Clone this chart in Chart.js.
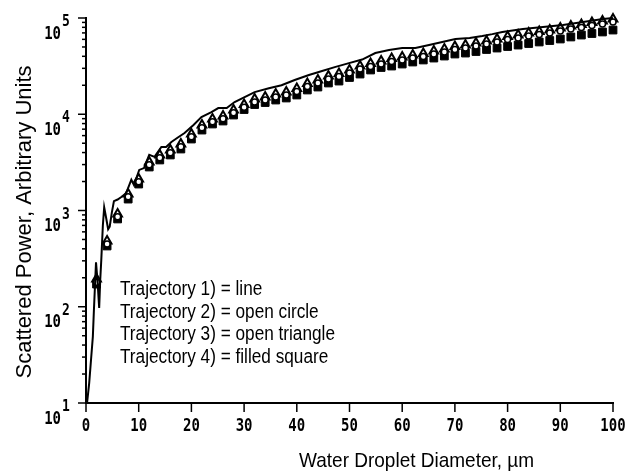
<!DOCTYPE html>
<html>
<head>
<meta charset="utf-8">
<script src="https://cdn.jsdelivr.net/npm/chart.js@4.4.1/dist/chart.umd.min.js"></script>
<style>
    html, body { margin: 0; background: #fff; }
</style>
</head>
<body>
<canvas id="scatterChart" width="626" height="475"></canvas>
<script>
// ─── Data ───────────────────────────────────────────────────────────────────
const lineX = [0.2, 0.6, 0.95, 1.3, 1.5, 1.9, 2.2, 2.5, 2.7, 2.9, 3.2, 3.45, 3.8, 4.2, 4.5,
    4.9, 5.3, 6.0, 6.7, 7.6, 8.6, 9.1, 10.1, 11.0, 12.0, 13.0, 14.3, 15.2, 16.2, 17.5,
    18.7, 20.4, 21.9, 23.8, 25.1, 26.7, 28.2, 30.1, 32.0, 34.7, 37.1, 39.6, 42.3, 44.8, 47.2,
    49.9, 52.4, 54.9, 57.5, 60, 62.5, 65.1, 67.6, 70.1, 72.8, 75.2, 77.1, 79, 82.9, 86.7,
    90.5, 94.3, 98.1, 100];
const lineY = [10, 16, 28, 49, 92, 290, 180, 97, 190, 306, 700, 1080, 850, 640, 680,
    950, 1250, 1300, 1380, 1510, 2090, 1840, 2640, 2760, 3790, 3610, 4580, 4580, 5150, 5770,
    6380, 7750, 9340, 10500, 11600, 11600, 13400, 15100, 17000, 18600, 20000, 22700, 25600, 28100, 30900,
    34000, 37000, 43300, 46500, 48700, 48700, 52500, 56400, 60500, 62000, 65000, 68000, 71600, 77000, 80500,
    84500, 90800, 97700, 100000];

const markerX = [2, 4, 6, 8, 10, 12, 14, 16, 18, 20, 22, 24, 26, 28, 30, 32, 34, 36, 38, 40,
    42, 44, 46, 48, 50, 52, 54, 56, 58, 60, 62, 64, 66, 68, 70, 72, 74, 76, 78, 80,
    82, 84, 86, 88, 90, 92, 94, 96, 98, 100];
const traj2 = [180, 450, 860, 1390, 1990, 2990, 3530, 3980, 4590, 5830,
    7220, 8350, 8970, 10350, 11800, 13400, 14100, 15100, 15850, 17250,
    19400, 21100, 23200, 24600, 26800, 29500, 31300, 33200, 35300, 36600,
    38400, 39800, 42200, 44300, 47000, 48700, 51100, 53600, 56300, 59800,
    61900, 64900, 67400, 69700, 73200, 76800, 79500, 83400, 86600, 90900];
const traj3 = [194, 482, 920, 1483, 2124, 3190, 3776, 4254, 4909, 6237,
    7727, 8930, 9590, 11070, 12620, 14390, 15100, 16220, 17020, 18530,
    20850, 22700, 24950, 26490, 28840, 31700, 33650, 35730, 37930, 39360,
    41300, 42760, 45400, 47640, 50580, 52360, 54950, 57680, 60530, 64270,
    66530, 69820, 72440, 74990, 78700, 82600, 85500, 89700, 93100, 97700];
const traj4 = [172, 428, 817, 1315, 1884, 2831, 3350, 3776, 4355, 5530,
    6855, 7925, 8510, 9820, 11200, 12620, 13240, 14060, 14760, 15850,
    17870, 19190, 21130, 22130, 24100, 26180, 28840, 30620, 31700, 33270,
    34910, 36640, 38370, 40270, 42270, 43250, 44870, 47100, 48750, 50580,
    52360, 54330, 56360, 58340, 60530, 63530, 66530, 69020, 71610, 74990];

const xTicks      = [0, 10, 20, 30, 40, 50, 60, 70, 80, 90, 100];
const yDecades    = [10, 100, 1000, 10000, 100000];
const yExponents  = ['1', '2', '3', '4', '5'];
const legendLines = ['Trajectory 1) = line', 'Trajectory 2) = open circle',
    'Trajectory 3) = open triangle', 'Trajectory 4) = filled square'];
const xTitle = 'Water Droplet Diameter, \u00b5m';
const yTitle = 'Scattered Power, Arbitrary Units';

// ─── Helpers ────────────────────────────────────────────────────────────────
const SANS = '"Liberation Sans", Arial, sans-serif';
const MONO = '"DejaVu Sans Mono", monospace';

function pts(xs, ys) {
    return xs.map((x, i) => ({ x, y: ys[i] }));
}

// axis ticks, tick labels, titles and the in-plot text key
const overlay = {
    id: 'overlay',
    afterDraw(chart) {
        const { ctx, chartArea: a, scales: { x, y } } = chart;
        ctx.save();
        ctx.strokeStyle = '#000';
        ctx.fillStyle = '#000';
        ctx.lineWidth = 1.5;

        // y ticks: majors at decades, minors at 2..9
        yDecades.forEach((d, i) => {
            const py = y.getPixelForValue(d);
            ctx.beginPath();
            ctx.moveTo(a.left - 8, py);
            ctx.lineTo(a.left, py);
            ctx.stroke();
            if (i < yDecades.length - 1) {
                for (let m = 2; m <= 9; m++) {
                    const my = y.getPixelForValue(d * m);
                    ctx.beginPath();
                    ctx.moveTo(a.left - 4, my);
                    ctx.lineTo(a.left, my);
                    ctx.stroke();
                }
            }
            // "10" with exponent
            ctx.save();
            ctx.translate(61, py + 16);
            ctx.scale(1, 1.25);
            ctx.font = 'bold 14px ' + MONO;
            ctx.textAlign = 'right';
            ctx.textBaseline = 'middle';
            ctx.fillText('10', 0, 0);
            ctx.restore();
            ctx.save();
            ctx.translate(62, py + 4);
            ctx.scale(1, 1.2);
            ctx.font = 'bold 13px ' + MONO;
            ctx.textAlign = 'left';
            ctx.textBaseline = 'middle';
            ctx.fillText(yExponents[i], 0, 0);
            ctx.restore();
        });

        // x ticks below the axis
        xTicks.forEach(v => {
            const px = x.getPixelForValue(v);
            ctx.beginPath();
            ctx.moveTo(px, a.bottom);
            ctx.lineTo(px, a.bottom + 9);
            ctx.stroke();
            ctx.save();
            ctx.translate(px, 427);
            ctx.scale(1, 1.2);
            ctx.font = 'bold 14px ' + MONO;
            ctx.textAlign = 'center';
            ctx.textBaseline = 'middle';
            ctx.fillText(String(v), 0, 0);
            ctx.restore();
        });

        // axis titles
        ctx.save();
        ctx.translate(299, 467);
        ctx.scale(1, 1.1);
        ctx.font = '19px ' + SANS;
        ctx.textAlign = 'left';
        ctx.textBaseline = 'alphabetic';
        ctx.fillText(xTitle, 0, 0);
        ctx.restore();

        ctx.save();
        ctx.translate(31, 222);
        ctx.rotate(-Math.PI / 2);
        ctx.font = '22px ' + SANS;
        ctx.textAlign = 'center';
        ctx.textBaseline = 'alphabetic';
        ctx.fillText(yTitle, 0, 0);
        ctx.restore();

        // text key inside the plot
        legendLines.forEach((t, i) => {
            ctx.save();
            ctx.translate(120, 295 + i * 22.7);
            ctx.scale(0.86, 1);
            ctx.font = '20px ' + SANS;
            ctx.textAlign = 'left';
            ctx.textBaseline = 'alphabetic';
            ctx.fillText(t, 0, 0);
            ctx.restore();
        });

        ctx.restore();
    }
};

// ─── Chart ──────────────────────────────────────────────────────────────────
new Chart(document.getElementById('scatterChart'), {
    type: 'line',
    data: {
        datasets: [
            {
                label: 'Trajectory 1',
                data: pts(lineX, lineY),
                borderColor: '#000',
                borderWidth: 2,
                pointRadius: 0,
                tension: 0,
                order: 0,
                clip: false,
            },
            {
                label: 'Trajectory 2',
                data: pts(markerX, traj2),
                showLine: false,
                pointStyle: 'circle',
                pointRadius: 3,
                pointBorderWidth: 1.5,
                pointBorderColor: '#000',
                pointBackgroundColor: '#fff',
                order: 1,
                clip: false,
            },
            {
                label: 'Trajectory 3',
                data: pts(markerX, traj3),
                showLine: false,
                pointStyle: 'triangle',
                pointRadius: 5,
                pointBorderWidth: 2,
                pointBorderColor: '#000',
                pointBackgroundColor: 'rgba(0,0,0,0)',
                order: 2,
                clip: false,
            },
            {
                label: 'Trajectory 4',
                data: pts(markerX, traj4),
                showLine: false,
                pointStyle: 'rect',
                pointRadius: 5.5,
                pointBorderWidth: 1,
                pointBorderColor: '#000',
                pointBackgroundColor: '#000',
                order: 3,
                clip: false,
            },
        ],
    },
    options: {
        responsive: false,
        animation: false,
        devicePixelRatio: 1,
        layout: { padding: { left: 86, top: 18, right: 13, bottom: 72 } },
        plugins: { legend: { display: false }, tooltip: { enabled: false } },
        scales: {
            x: {
                type: 'linear',
                min: 0,
                max: 100,
                ticks: { display: false, stepSize: 10 },
                grid: { display: false, drawTicks: false },
                border: { display: true, color: '#000', width: 2 },
            },
            y: {
                type: 'logarithmic',
                min: 10,
                max: 100000,
                ticks: { display: false },
                grid: { display: false, drawTicks: false },
                border: { display: true, color: '#000', width: 2 },
            },
        },
    },
    plugins: [overlay],
});
</script>
</body>
</html>
